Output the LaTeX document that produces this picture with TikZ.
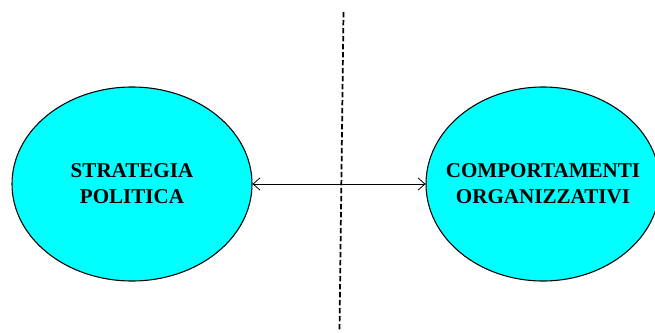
\documentclass[tikz,border=0pt]{standalone}
\usepackage{fontspec}
\setmainfont{Liberation Serif}
\usetikzlibrary{arrows.meta,shapes.geometric}
\definecolor{bubble}{HTML}{00FFFF}
\begin{document}
\begin{tikzpicture}[x=0.75pt,y=-0.75pt,
  concept/.style={ellipse,draw=black,line width=0.8pt,fill=bubble,inner sep=0pt},
  caption/.style={align=center,inner sep=0pt,font=\bfseries\fontsize{15.8}{19.5}\selectfont},
  link/.style={line width=0.6pt,{Straight Barb[length=5pt,width=9pt]}-{Straight Barb[length=5pt,width=9pt]}},
  divider/.style={line width=1.3pt,dash pattern=on 4pt off 2pt}]
\useasboundingbox (0,0) rectangle (655,332);
\begin{scope}
\clip (0,0) rectangle (655,332);
% the two concepts
\node[concept,minimum width=180pt,minimum height=145.5pt] (left) at (132,184) {};
\node[caption] (lefttext) at (left.center) {STRATEGIA\\POLITICA};
\node[concept,minimum width=175.5pt,minimum height=145.5pt] (right) at (543,184) {};
\node[caption] (righttext) at (right.center) {COMPORTAMENTI\\ORGANIZZATIVI};
% vertical dashed separator
\coordinate (top) at (343.5,12);
\coordinate (bottom) at (339.5,330);
\draw[divider] (top) -- (bottom);
% two-way link
\draw[link] (left.east) -- (right.west);
\end{scope}
\end{tikzpicture}
\end{document}
